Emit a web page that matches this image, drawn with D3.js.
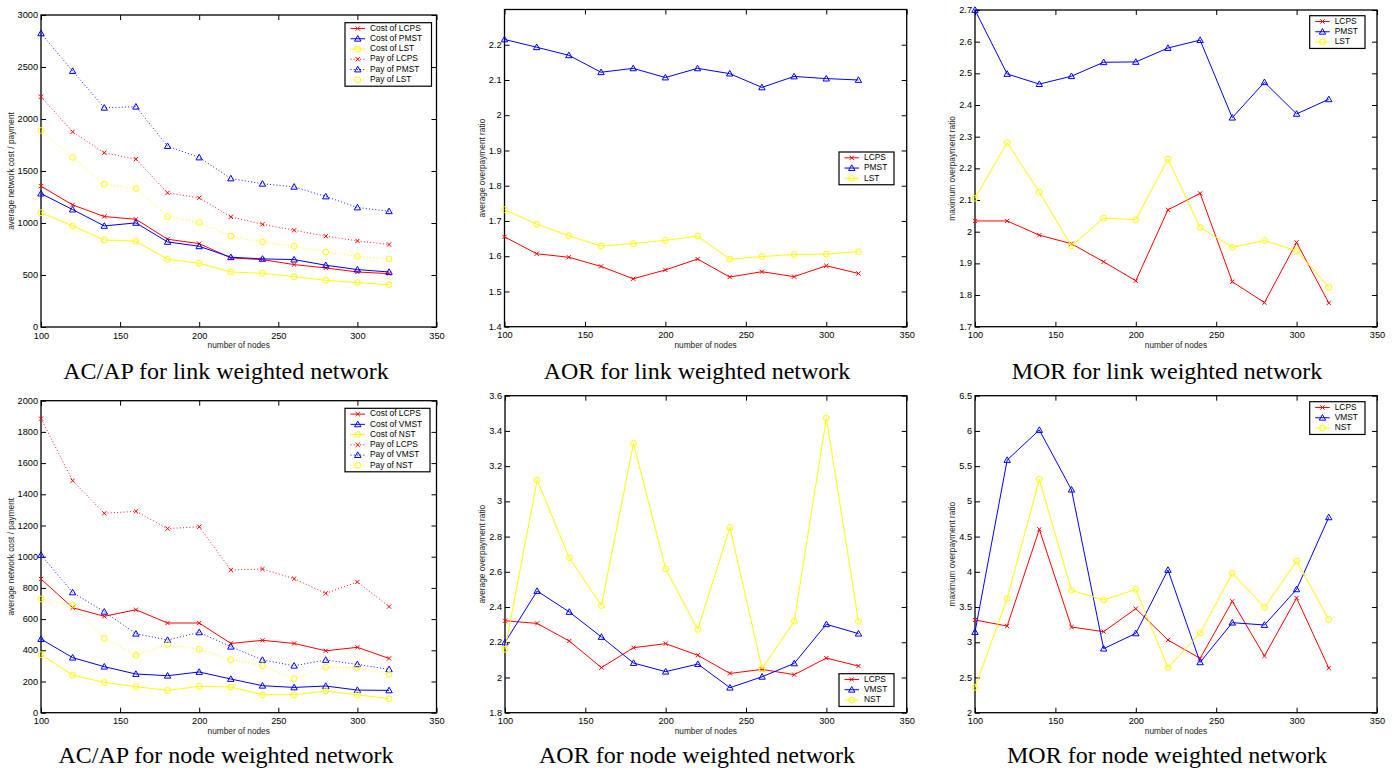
<!DOCTYPE html>
<html><head><meta charset="utf-8">
<script src="https://cdn.jsdelivr.net/npm/d3@7"></script>
<style>body{margin:0;background:#fff}svg{display:block}</style>
</head><body>
<svg id="c" width="1397" height="770"></svg>
<script>
// ---------- data ----------
const nodes = [100,120,140,160,180,200,220,240,260,280,300,320];
const xTicks = [100,150,200,250,300,350];

// AC/AP link weighted
const linkCostLCPS = [1354,1174,1062,1036,844,802,664,648,600,568,529,513];
const linkCostPMST = [1283,1129,972,1001,818,776,671,655,648,594,552,529];
const linkCostLST  = [1100,972,837,825,651,613,529,517,484,449,427,407];
const linkPayLCPS  = [2214,1877,1675,1614,1290,1242,1059,988,930,873,828,793];
const linkPayPMST  = [2824,2461,2108,2118,1739,1630,1428,1377,1348,1255,1149,1113];
const linkPayLST   = [1890,1630,1373,1332,1062,1004,873,818,776,719,680,655];
const acapLinkTicks = [0,500,1000,1500,2000,2500,3000];

// AOR link weighted
const aorLinkLCPS = [1.655,1.607,1.597,1.571,1.536,1.561,1.592,1.541,1.556,1.542,1.573,1.551];
const aorLinkPMST = [2.215,2.193,2.170,2.122,2.133,2.107,2.133,2.118,2.079,2.110,2.104,2.100];
const aorLinkLST  = [1.732,1.691,1.658,1.629,1.636,1.645,1.657,1.592,1.599,1.605,1.606,1.613];
const aorLinkTicks = [1.4,1.5,1.6,1.7,1.8,1.9,2.0,2.1,2.2];

// MOR link weighted
const morLinkLCPS = [2.034,2.034,1.989,1.962,1.905,1.845,2.069,2.121,1.842,1.776,1.966,1.775];
const morLinkPMST = [2.700,2.498,2.466,2.491,2.535,2.536,2.580,2.605,2.360,2.472,2.372,2.418];
const morLinkLST  = [2.106,2.281,2.125,1.955,2.043,2.038,2.229,2.013,1.951,1.972,1.940,1.825];
const morLinkTicks = [1.7,1.8,1.9,2.0,2.1,2.2,2.3,2.4,2.5,2.6,2.7];

// AC/AP node weighted
const nodeCostLCPS = [857,673,618,660,575,575,444,464,444,397,419,348];
const nodeCostVMST = [472,353,295,248,237,261,216,173,162,171,145,143];
const nodeCostNST  = [372,241,194,167,143,169,165,115,115,139,115,90];
const nodePayLCPS  = [1885,1487,1278,1291,1180,1192,915,921,859,765,838,680];
const nodePayVMST  = [1011,771,647,506,466,515,423,338,301,338,310,278];
const nodePayNST   = [729,690,477,368,436,406,340,301,218,291,288,246];
const acapNodeTicks = [0,200,400,600,800,1000,1200,1400,1600,1800,2000];

// AOR node weighted
const aorNodeLCPS = [2.322,2.307,2.207,2.056,2.169,2.192,2.126,2.023,2.046,2.016,2.110,2.065];
const aorNodeVMST = [2.199,2.491,2.372,2.230,2.082,2.033,2.076,1.942,2.004,2.080,2.302,2.249];
const aorNodeNST  = [2.160,3.121,2.680,2.408,3.329,2.616,2.273,2.852,2.050,2.319,3.473,2.319];
const aorNodeTicks = [1.8,2.0,2.2,2.4,2.6,2.8,3.0,3.2,3.4,3.6];

// MOR node weighted
const morNodeLCPS = [3.316,3.230,4.603,3.216,3.150,3.477,3.032,2.771,3.581,2.805,3.628,2.634];
const morNodeVMST = [3.145,5.587,6.013,5.166,2.909,3.126,4.026,2.715,3.278,3.245,3.751,4.773];
const morNodeNST  = [2.360,3.619,5.313,3.737,3.600,3.751,2.639,3.131,3.978,3.496,4.153,3.325];
const morNodeTicks = [2,2.5,3,3.5,4,4.5,5,5.5,6,6.5];

// ---------- styles ----------
const RED = "#ff0000", BLUE = "#0000ff", YEL = "#ffff00";
const S = (name, values, color, marker, dotted) => ({name, values, color, marker, dotted});

const panels = [
  {left:41, right:436.5, top:15, bottom:327, domain:[0,3000], ticks:acapLinkTicks,
   ylabel:"average network cost / payment", ylabelX:12, title:"AC/AP for link weighted network", titleX:226, titleY:379,
   legend:{x:345, y:22.7, w:86.5},
   series:[S("Cost of LCPS",linkCostLCPS,RED,"x",false),S("Cost of PMST",linkCostPMST,BLUE,"tri",false),
           S("Cost of LST",linkCostLST,YEL,"o",false),S("Pay of LCPS",linkPayLCPS,RED,"x",true),
           S("Pay of PMST",linkPayPMST,BLUE,"tri",true),S("Pay of LST",linkPayLST,YEL,"o",true)]},
  {left:504.5, right:906.7, top:9.5, bottom:326.7, domain:[1.4,2.3], ticks:aorLinkTicks,
   ylabel:"average overpayment ratio", ylabelX:482.7, title:"AOR for link weighted network", titleX:697, titleY:379,
   legend:{x:839, y:152, w:55},
   series:[S("LCPS",aorLinkLCPS,RED,"x",false),S("PMST",aorLinkPMST,BLUE,"tri",false),S("LST",aorLinkLST,YEL,"o",false)]},
  {left:975, right:1377, top:10, bottom:326.7, domain:[1.7,2.7], ticks:morLinkTicks,
   ylabel:"maximum overpayment ratio", ylabelX:952.7, title:"MOR for link weighted network", titleX:1167, titleY:379,
   legend:{x:1309.7, y:15.7, w:55.3},
   series:[S("LCPS",morLinkLCPS,RED,"x",false),S("PMST",morLinkPMST,BLUE,"tri",false),S("LST",morLinkLST,YEL,"o",false)]},
  {left:41, right:436.5, top:400.7, bottom:712.7, domain:[0,2000], ticks:acapNodeTicks,
   ylabel:"average network cost / payment", ylabelX:12, title:"AC/AP for node weighted network", titleX:226, titleY:763,
   legend:{x:345, y:408.3, w:85},
   series:[S("Cost of LCPS",nodeCostLCPS,RED,"x",false),S("Cost of VMST",nodeCostVMST,BLUE,"tri",false),
           S("Cost of NST",nodeCostNST,YEL,"o",false),S("Pay of LCPS",nodePayLCPS,RED,"x",true),
           S("Pay of VMST",nodePayVMST,BLUE,"tri",true),S("Pay of NST",nodePayNST,YEL,"o",true)]},
  {left:505, right:906.7, top:395.7, bottom:712.7, domain:[1.8,3.6], ticks:aorNodeTicks,
   ylabel:"average overpayment ratio", ylabelX:482.7, title:"AOR for node weighted network", titleX:697, titleY:763,
   legend:{x:839, y:673.7, w:55},
   series:[S("LCPS",aorNodeLCPS,RED,"x",false),S("VMST",aorNodeVMST,BLUE,"tri",false),S("NST",aorNodeNST,YEL,"o",false)]},
  {left:975, right:1377, top:395.7, bottom:712.7, domain:[2,6.5], ticks:morNodeTicks,
   ylabel:"maximum overpayment ratio", ylabelX:952.7, title:"MOR for node weighted network", titleX:1167, titleY:763,
   legend:{x:1309.7, y:401.7, w:55.3},
   series:[S("LCPS",morNodeLCPS,RED,"x",false),S("VMST",morNodeVMST,BLUE,"tri",false),S("NST",morNodeNST,YEL,"o",false)]}
];

const svg = d3.select("#c");
const SANS = "'Liberation Sans', Arial, Helvetica, sans-serif";
const SERIF = "'Liberation Serif', 'Times New Roman', Times, serif";
const fmt = d => String(+d.toFixed(3));

function drawMarker(g, type, cx, cy, color) {
  if (type === "x") {
    const r = 2.1;
    g.append("path").attr("d", `M${cx-r},${cy-r}L${cx+r},${cy+r}M${cx-r},${cy+r}L${cx+r},${cy-r}`)
      .attr("stroke", color).attr("stroke-width", 1).attr("fill", "none");
  } else if (type === "tri") {
    const h = 3.2;
    g.append("path").attr("d", `M${cx},${cy-h}L${cx+h},${cy+h*0.75}L${cx-h},${cy+h*0.75}Z`)
      .attr("stroke", color).attr("stroke-width", 1).attr("fill", "none");
  } else {
    g.append("circle").attr("cx", cx).attr("cy", cy).attr("r", 2.9)
      .attr("stroke", color).attr("stroke-width", 1).attr("fill", "none");
  }
}

panels.forEach(p => {
  const x = d3.scaleLinear().domain([100,350]).range([p.left, p.right]);
  const y = d3.scaleLinear().domain(p.domain).range([p.bottom, p.top]);
  const g = svg.append("g");

  // axes with inward ticks
  const axL = g.append("g").attr("transform", `translate(${p.left},0)`)
    .call(d3.axisLeft(y).tickValues(p.ticks).tickFormat(fmt).tickSizeInner(-5).tickSizeOuter(0).tickPadding(3));
  const axB = g.append("g").attr("transform", `translate(0,${p.bottom})`)
    .call(d3.axisBottom(x).tickValues(xTicks).tickFormat(fmt).tickSizeInner(-5).tickSizeOuter(0).tickPadding(5));
  const axR = g.append("g").attr("transform", `translate(${p.right},0)`)
    .call(d3.axisRight(y).tickValues(p.ticks).tickFormat("").tickSizeInner(-5).tickSizeOuter(0));
  const axT = g.append("g").attr("transform", `translate(0,${p.top})`)
    .call(d3.axisTop(x).tickValues(xTicks).tickFormat("").tickSizeInner(-5).tickSizeOuter(0));
  [axL, axB, axR, axT].forEach(a => {
    a.select(".domain").remove();
    a.selectAll("line").attr("stroke", "#000").attr("stroke-width", 1);
    a.selectAll("text").attr("font-family", SANS).attr("font-size", 9.2).attr("fill", "#000");
  });
  axB.selectAll("text").attr("dy", "0.71em");
  axL.selectAll("text").attr("dy", "0.28em");

  g.append("rect").attr("x", p.left).attr("y", p.top)
    .attr("width", p.right - p.left).attr("height", p.bottom - p.top)
    .attr("fill", "none").attr("stroke", "#000").attr("stroke-width", 1.3);

  // series
  const line = d3.line().x((d, i) => x(nodes[i])).y(d => y(d));
  p.series.forEach(s => {
    g.append("path").datum(s.values).attr("d", line)
      .attr("fill", "none").attr("stroke", s.color).attr("stroke-width", s.dotted ? 0.9 : 1)
      .attr("stroke-dasharray", s.dotted ? "1,2.2" : null);
    s.values.forEach((v, i) => drawMarker(g, s.marker, x(nodes[i]), y(v), s.color));
  });

  // labels
  g.append("text").attr("x", (p.left + p.right) / 2).attr("y", p.bottom + 21)
    .attr("text-anchor", "middle").attr("font-family", SANS).attr("font-size", 8.3)
    .attr("fill", "#222").text("number of nodes");
  g.append("text").attr("transform", `translate(${p.ylabelX},${(p.top + p.bottom) / 2}) rotate(-90)`)
    .attr("text-anchor", "middle").attr("dominant-baseline", "middle")
    .attr("font-family", SANS).attr("font-size", 8.3).attr("fill", "#222").text(p.ylabel);
  g.append("text").attr("x", p.titleX).attr("y", p.titleY).attr("text-anchor", "middle")
    .attr("font-family", SERIF).attr("font-size", 24).attr("fill", "#000").text(p.title);

  // legend
  const L = p.legend, rowH = 10.25, n = p.series.length;
  const lg = g.append("g");
  lg.append("rect").attr("x", L.x).attr("y", L.y).attr("width", L.w).attr("height", n * rowH + 2)
    .attr("fill", "#fff").attr("stroke", "#000").attr("stroke-width", 1.2);
  p.series.forEach((s, i) => {
    const cy = L.y + 5.8 + i * rowH;
    lg.append("line").attr("x1", L.x + 5.5).attr("x2", L.x + 20).attr("y1", cy).attr("y2", cy)
      .attr("stroke", s.color).attr("stroke-width", 1).attr("stroke-dasharray", s.dotted ? "1,2.2" : null);
    drawMarker(lg, s.marker, L.x + 12.75, cy, s.color);
    lg.append("text").attr("x", L.x + 25).attr("y", cy).attr("dominant-baseline", "middle")
      .attr("font-family", SANS).attr("font-size", 8.4).attr("fill", "#000").text(s.name);
  });
});
</script>
</body></html>
